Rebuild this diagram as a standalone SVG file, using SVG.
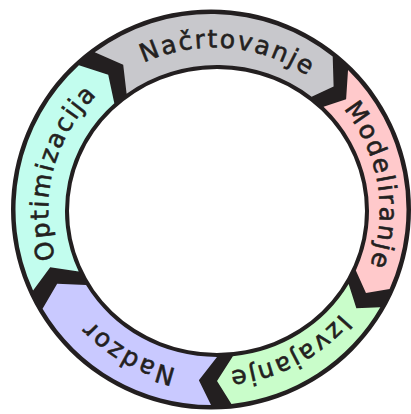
<svg xmlns="http://www.w3.org/2000/svg" width="411" height="414" viewBox="0 0 411 414">
<style>
.lbl{font-family:"DejaVu Sans","Liberation Sans",sans-serif;font-size:25px;letter-spacing:2px;fill:#231f20;stroke:#231f20;stroke-width:0.6px;text-anchor:middle}
.seg{stroke:none}
</style>
<defs>
<path id="p1" d="M 48.88,196.06 A 165.75 162.75 0 0 1 379.12,224.44"/>
<path id="p2" d="M 188.07,49.50 A 165.75 162.75 0 0 1 239.93,371.00"/>
<path id="p3" d="M 360.34,133.84 A 165.75 162.75 0 0 1 67.66,286.66"/>
<path id="p4" d="M 356.08,294.07 A 165.75 162.75 0 0 1 71.92,126.43"/>
<path id="p5" d="M 173.90,368.17 A 165.75 162.75 0 0 1 254.10,52.33"/>
</defs>
<rect width="411" height="414" fill="#ffffff"/>
<g id="connectors">
<path id="ring" fill="#231f20" fill-rule="evenodd" d="M 11,209.5 A 200 200 0 1 1 411,209.5 A 200 200 0 1 1 11,209.5 Z M 69,211 A 148 142 0 1 0 365,211 A 148 142 0 1 0 69,211 Z"/>
</g>
<g id="nacrtovanje">
<path class="seg" fill="#c8c8cc" d="M 94.72,52.34 A 195.5 195.5 0 0 1 332.70,56.50 L 333.61,86.39 L 311.62,96.74 A 152 146 0 0 0 126.59,93.63 L 123.20,64.67 Z"/>
<text class="lbl"><textPath href="#p1" startOffset="50%">Načrtovanje</textPath></text>
</g>
<g id="modeliranje">
<path class="seg" fill="#ffc9cb" d="M 348.03,70.05 A 195.5 195.5 0 0 1 389.59,289.01 L 365.96,293.03 L 355.85,270.38 A 152 146 0 0 0 323.54,106.86 L 346.12,99.37 Z"/>
<text class="lbl"><textPath href="#p2" startOffset="50%">Modeliranje</textPath></text>
</g>
<g id="izvajanje">
<path class="seg" fill="#c9fdca" d="M 380.30,307.25 A 195.5 195.5 0 0 1 231.43,403.92 L 217.03,380.97 L 232.88,356.20 A 152 146 0 0 0 348.64,284.00 L 356.34,308.20 Z"/>
<text class="lbl"><textPath href="#p3" startOffset="50%">Izvajanje</textPath></text>
</g>
<g id="nadzor">
<path class="seg" fill="#c9c9ff" d="M 211,405 A 195.5 195.5 0 0 1 42.56,308.72 L 57.17,283.76 L 86.04,285.10 A 152 146 0 0 0 217,357 L 198.86,380.35 Z"/>
<text class="lbl"><textPath href="#p4" startOffset="50%">Nadzor</textPath></text>
</g>
<g id="optimizacija">
<path class="seg" fill="#c2fdee" d="M 33.09,290.57 A 195.5 195.5 0 0 1 78.92,65.36 L 108.22,74.78 L 114.31,103.35 A 152 146 0 0 0 78.68,271.55 L 50.22,267.25 Z"/>
<text class="lbl"><textPath href="#p5" startOffset="50%">Optimizacija</textPath></text>
</g>
</svg>
